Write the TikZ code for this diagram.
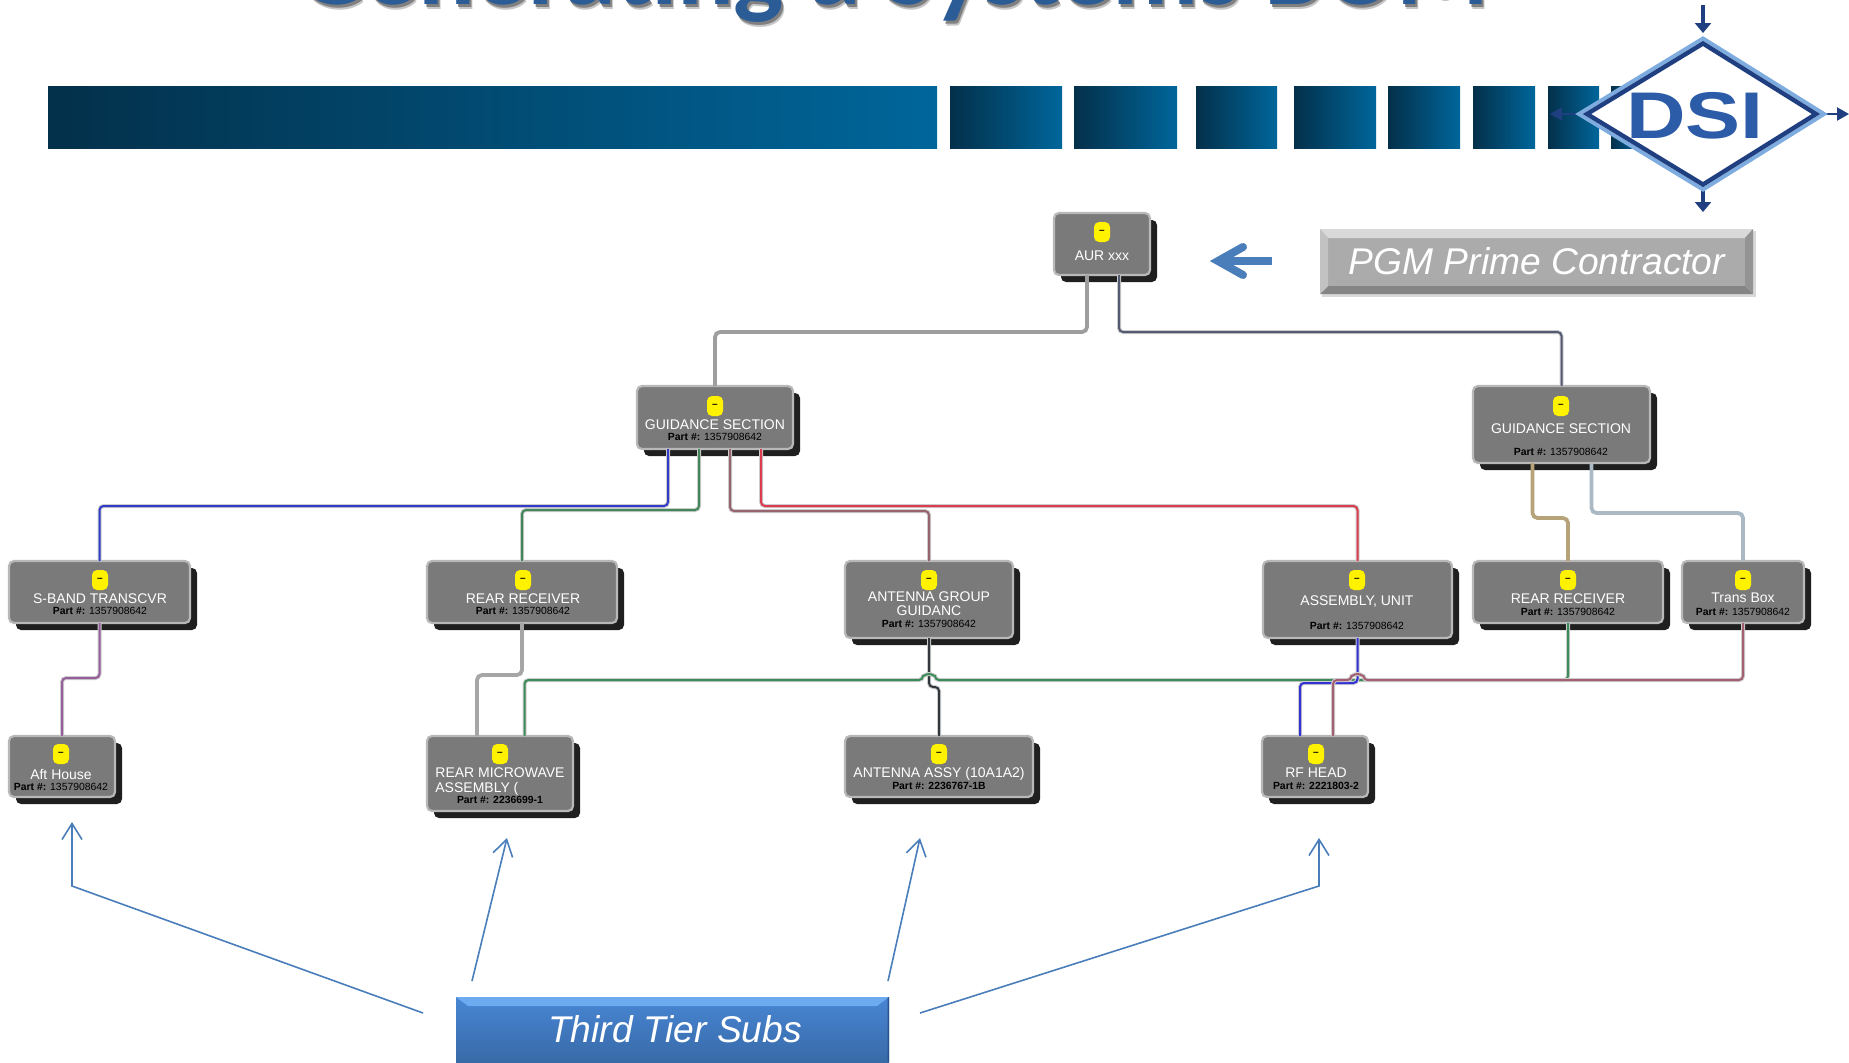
\documentclass[tikz,border=0pt]{standalone}
\usepackage{fontspec}
\setmainfont{Liberation Sans}
\newfontfamily\titlefont{Carlito}
\usetikzlibrary{calc,shadows,arrows.meta}
\definecolor{barL}{HTML}{03304A}
\definecolor{barR}{HTML}{00669B}
\definecolor{arrowblue}{HTML}{4A7EBB}
\definecolor{logoD}{HTML}{1F3F80}
\definecolor{logoL}{HTML}{7FACDF}
\definecolor{logoT}{HTML}{2C5BA8}
\definecolor{titleC}{HTML}{2B5C96}
\definecolor{wNavy}{RGB}{85,90,115}
\definecolor{wBlue}{RGB}{50,60,200}
\definecolor{wGreen}{RGB}{65,135,90}
\definecolor{wMauve}{RGB}{150,100,110}
\definecolor{wRed}{RGB}{220,60,80}
\definecolor{wTan}{RGB}{182,163,122}
\definecolor{wSteel}{RGB}{170,185,195}
\definecolor{wPurple}{RGB}{150,95,155}
\definecolor{wDark}{RGB}{50,55,60}
\definecolor{wBus}{RGB}{60,140,90}
\definecolor{wBlueB}{RGB}{50,50,215}
\definecolor{wPink}{RGB}{165,95,115}
\definecolor{tierT}{RGB}{72,134,212}
\definecolor{tierB}{RGB}{56,106,168}
\definecolor{tierH}{RGB}{108,171,240}
\definecolor{tierR}{RGB}{42,84,140}
\tikzset{
  bombox/.style={draw=black!28,line width=1.1pt,fill=black!52,rounded corners=2.5pt,inner sep=0pt,outer sep=0pt,
    general shadow={fill=black!88,shadow xshift=3.5pt,shadow yshift=-3.5pt}},
  badgebox/.style={fill=yellow,rounded corners=2.5pt,minimum width=8pt,minimum height=10pt,inner sep=0pt,text=black,font=\fontsize{5}{5}\selectfont\bfseries},
  lbl/.style={text=white,inner sep=0pt,font=\fontsize{7}{8}\selectfont,text height=5pt,text depth=0pt},
  partno/.style={text=black,inner sep=0pt,font=\fontsize{5.2}{6}\selectfont,text height=3.7pt,text depth=0pt},
  wire/.style={draw=#1,line width=1pt,rounded corners=2pt,preaction={draw=black!20,line width=2pt}},
  fatwire/.style={draw=#1,line width=1.9pt,rounded corners=2.5pt},
  callout/.style={draw=arrowblue,line width=0.8pt,-{Straight Barb[length=8pt,width=10pt]}},
  bar/.style={left color=barL,right color=barR,draw=none},
  cta/.style={text=white,inner sep=0pt,font=\fontsize{18.6}{22}\selectfont\itshape},
  titletext/.style={anchor=base,inner sep=0pt,font=\fontsize{53}{55}\selectfont\titlefont\bfseries},
}
\newcommand{\bom}[5]{\node[bombox,minimum width={(#4-#2)*0.5pt},minimum height={(#5-#3)*0.5pt}] (#1) at ({(#2+#4)/2},{(#3+#5)/2}) {};}
\newcommand{\bomtext}[7]{%
  \node[badgebox] (#1-b) at (#2,#3) {--};
  \node[lbl] (#1-l) at (#2,#4) {#5};
  \node[partno] (#1-p) at (#2,#6) {\textbf{Part \#:} #7};}
\begin{document}
\begin{tikzpicture}[x=0.5pt,y=-0.5pt]
\useasboundingbox (0,0) rectangle (1849,1062);
% title
\node[titletext,text=black!22] (titleglow) at (896,9) {Generating a Systems BOM};
\node[titletext,text=black!50] (titleshadow) at (895,7) {Generating a Systems BOM};
\node[titletext,text=titleC] (title) at (893,4) {Generating a Systems BOM};
% header bars
\fill[bar] (48,86) rectangle (937,148);
\fill[bar] (950,86) rectangle (1062,148);
\fill[bar] (1074,86) rectangle (1177,148);
\fill[bar] (1196,86) rectangle (1277,148);
\fill[bar] (1294,86) rectangle (1376,148);
\fill[bar] (1388,86) rectangle (1460,148);
\fill[bar] (1473,86) rectangle (1535,148);
\fill[bar] (1548,86) rectangle (1599,148);
\fill[bar] (1611,86) rectangle (1640,148);
% logo
\draw[logoD,line width=2.2pt,-{Triangle[length=5pt,width=8pt]}] (1703,5) -- (1703,33);
\draw[logoD,line width=2.2pt,-{Triangle[length=5pt,width=8pt]}] (1703,190) -- (1703,212);
\draw[logoD,line width=1.1pt,-{Triangle[length=6pt,width=6.5pt]}] (1580,114) -- (1550,114);
\draw[logoD,line width=1.1pt,-{Triangle[length=6pt,width=6.5pt]}] (1824,114) -- (1849,114);
\draw[logoL,fill=white,line width=2pt,line join=miter] (1703,38.5) -- (1824,114) -- (1703,189.5) -- (1579,114) -- cycle;
\draw[logoD,line width=2.2pt,line join=miter] (1703,43.5) -- (1816,114) -- (1703,184.5) -- (1587,114) -- cycle;
\node[inner sep=0pt,text=logoT,font=\fontsize{33}{33}\selectfont\bfseries,xscale=1.25] (dsi) at (1695,116) {DSI};
% BOM nodes
\bom{aur}{1054}{213}{1150}{275}
\bom{gl}{637}{386}{793}{449}
\bom{gr}{1473}{386}{1650}{463}
\bom{sband}{9}{561}{190}{623}
\bom{rone}{427}{561}{617}{623}
\bom{ag}{845}{561}{1013}{638}
\bom{asm}{1263}{561}{1452}{638}
\bom{rtwo}{1473}{561}{1663}{623}
\bom{trans}{1682}{561}{1804}{623}
\bom{aft}{9}{736}{115}{797}
\bom{micro}{427}{736}{573}{811}
\bom{assy}{845}{736}{1033}{797}
\bom{rf}{1262}{736}{1368}{797}
\node[badgebox] (aur-b) at (1102,232) {--};
\node[lbl] (aur-l) at (1102,255) {AUR xxx};
\bomtext{gl}{715}{406}{424}{GUIDANCE SECTION}{437}{1357908642}
\bomtext{gr}{1561}{406}{428}{GUIDANCE SECTION}{452}{1357908642}
\bomtext{sband}{100}{580}{598}{S-BAND TRANSCVR}{611}{1357908642}
\bomtext{rone}{523}{580}{598}{REAR RECEIVER}{611}{1357908642}
\node[badgebox] (ag-b) at (929,580) {--};
\node[lbl] (ag-l) at (929,596) {ANTENNA GROUP};
\node[lbl] (ag-m) at (929,610) {GUIDANC};
\node[partno] (ag-p) at (929,624) {\textbf{Part \#:} 1357908642};
\bomtext{asm}{1357}{580}{600}{ASSEMBLY, UNIT}{626}{1357908642}
\bomtext{rtwo}{1568}{580}{598}{REAR RECEIVER}{612}{1357908642}
\bomtext{trans}{1743}{580}{597}{Trans Box}{612}{1357908642}
\bomtext{aft}{61}{754}{774}{Aft House}{787}{1357908642}
\node[badgebox] (micro-b) at (500,754) {--};
\node[lbl,anchor=west] (micro-l) at (435,772) {REAR MICROWAVE};
\node[lbl,anchor=west] (micro-m) at (435,787) {ASSEMBLY (};
\node[partno] (micro-p) at (500,800) {\textbf{Part \#: 2236699-1}};
\node[badgebox] (assy-b) at (939,754) {--};
\node[lbl] (assy-l) at (939,772) {ANTENNA ASSY (10A1A2)};
\node[partno] (assy-p) at (939,786) {\textbf{Part \#: 2236767-1B}};
\node[badgebox] (rf-b) at (1316,754) {--};
\node[lbl] (rf-l) at (1316,772) {RF HEAD};
\node[partno] (rf-p) at (1316,786) {\textbf{Part \#: 2221803-2}};
% connectors
\coordinate (bus) at (0,680);
\draw[fatwire=black!38] ($(aur.south)+(-15,0)$) -- ++(0,57) -| (gl.north);
\draw[wire=wNavy] ($(aur.south)+(17,0)$) -- ++(0,57) -| (gr.north);
\draw[wire=wBlue] ($(gl.south)+(-47,0)$) -- ++(0,57) -| (sband.north);
\draw[wire=wGreen] ($(gl.south)+(-16,0)$) -- ++(0,61) -| (rone.north);
\draw[wire=wMauve] ($(gl.south)+(15,0)$) -- ++(0,62) -| (ag.north);
\draw[wire=wRed] ($(gl.south)+(46,0)$) -- ++(0,57) -| (asm.north);
\draw[fatwire=wTan] ($(gr.south)+(-29,0)$) -- ++(0,55) -| (rtwo.north);
\draw[fatwire=wSteel] ($(gr.south)+(30,0)$) -- ++(0,50) -| (trans.north);
\draw[wire=wPurple] (sband.south) -- ++(0,55) -| (aft.north);
\draw[fatwire=black!35] (rone.south) -- ++(0,52) -| ($(micro.north)+(-23,0)$);
\draw[wire=wDark] (ag.south) -- ++(0,49) -| (assy.north);
\draw[wire=wBus] (rtwo.south) -- (rtwo.south |- bus) -- ($(ag.south |- bus)+(6,0)$) arc[start angle=0,end angle=-180,radius=6] -- ($(micro.north |- bus)+(24.5,0)$) -- ($(micro.north)+(24.5,0)$);
\draw[wire=wBlueB] (asm.south) -- ++(0,45) -| ($(rf.north)+(-15,0)$);
\draw[wire=wPink] (trans.south) -- (trans.south |- bus) -- ($(asm.south |- bus)+(6,0)$) arc[start angle=0,end angle=-180,radius=6] -| ($(rf.north)+(18,0)$);
% prime contractor box
\fill[black!15] (1322,231) rectangle (1756,297);
\fill[black!33] (1320,229) rectangle (1753,294);
\fill[black!15] (1320,229) -- (1753,229) -- (1745,238) -- (1328,238) -- cycle;
\fill[black!48] (1320,294) -- (1753,294) -- (1745,286) -- (1328,286) -- cycle;
\fill[black!42] (1753,229) -- (1753,294) -- (1745,286) -- (1745,238) -- cycle;
\fill[black!24] (1320,229) -- (1328,238) -- (1328,286) -- (1320,294) -- cycle;
\node[cta] (pgm) at (1537,261) {PGM Prime Contractor};
\coordinate (pgmtail) at (1272,261);
\coordinate (pgmtip) at (1218,261);
\draw[arrowblue,line width=4pt] (pgmtail) -- (pgmtip);
\draw[arrowblue,line width=4pt,line cap=round,line join=miter] (1243,247) -- (pgmtip) -- (1243,275);
% third tier box
\shade[top color=tierT,bottom color=tierB] (456,997) rectangle (889,1062);
\fill[tierH] (456,997) -- (889,997) -- (877,1006) -- (468,1006) -- cycle;
\fill[tierR] (889,997) -- (887.5,998) -- (887.5,1062) -- (889,1062) -- cycle;
\node[cta] (tier) at (675,1029) {Third Tier Subs};
\coordinate (c1) at (423,1013);
\coordinate (c2) at (472,981);
\coordinate (c3) at (888,981);
\coordinate (c4) at (920,1013);
\draw[callout] (c1) -- (72,886) -- (72,822);
\draw[callout] (c2) -- (507,838);
\draw[callout] (c3) -- (920,838);
\draw[callout] (c4) -- (1319,886) -- (1319,838);
\end{tikzpicture}
\end{document}
